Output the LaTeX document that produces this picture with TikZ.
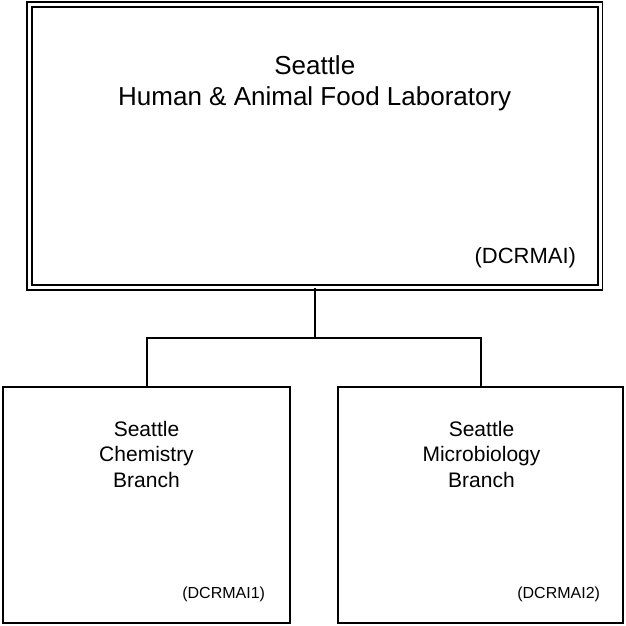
\documentclass[tikz,border=0pt]{standalone}
\usepackage{fontspec}
\setmainfont{Liberation Sans}
\begin{document}
\begin{tikzpicture}[x=1pt,y=-1pt,line width=2pt,
    unit/.style={draw,rectangle,inner sep=0pt},
    labbox/.style={unit,line width=1.8pt,double,double distance=3pt},
    unittitle/.style={align=center,anchor=base,inner sep=0pt},
    unitcode/.style={anchor=base east,inner sep=0pt}]
  \useasboundingbox (0,0) rectangle (625,626);
  \node[labbox,minimum width=570.5pt,minimum height=282.7pt] (lab) at (314.75,146.15) {};
  \node[unit,minimum width=287pt,minimum height=236pt] (chem) at (146.5,505) {};
  \node[unit,minimum width=285pt,minimum height=236pt] (micro) at (480.5,505) {};
  \node[unittitle,font=\fontsize{26}{31}\selectfont] (labname) at (314.75,105)
    {Seattle\\Human \& Animal Food Laboratory};
  \node[unitcode,font=\fontsize{22}{26}\selectfont] (labcode) at (577,263) {(DCRMAI)};
  \node[unittitle,font=\fontsize{21}{25.5}\selectfont] (chemname) at (146.5,487)
    {Seattle\\Chemistry\\Branch};
  \node[unitcode,font=\fontsize{16}{19}\selectfont] (chemcode) at (266,598) {(DCRMAI1)};
  \node[unittitle,font=\fontsize{21}{25.5}\selectfont] (microname) at (481.5,487)
    {Seattle\\Microbiology\\Branch};
  \node[unitcode,font=\fontsize{16}{19}\selectfont] (microcode) at (601,598) {(DCRMAI2)};
  \coordinate (split) at (314.75,338);
  \draw (lab.south) -- (split);
  \draw (split) -| (chem.north);
  \draw (split) -| (micro.north);
\end{tikzpicture}
\end{document}
